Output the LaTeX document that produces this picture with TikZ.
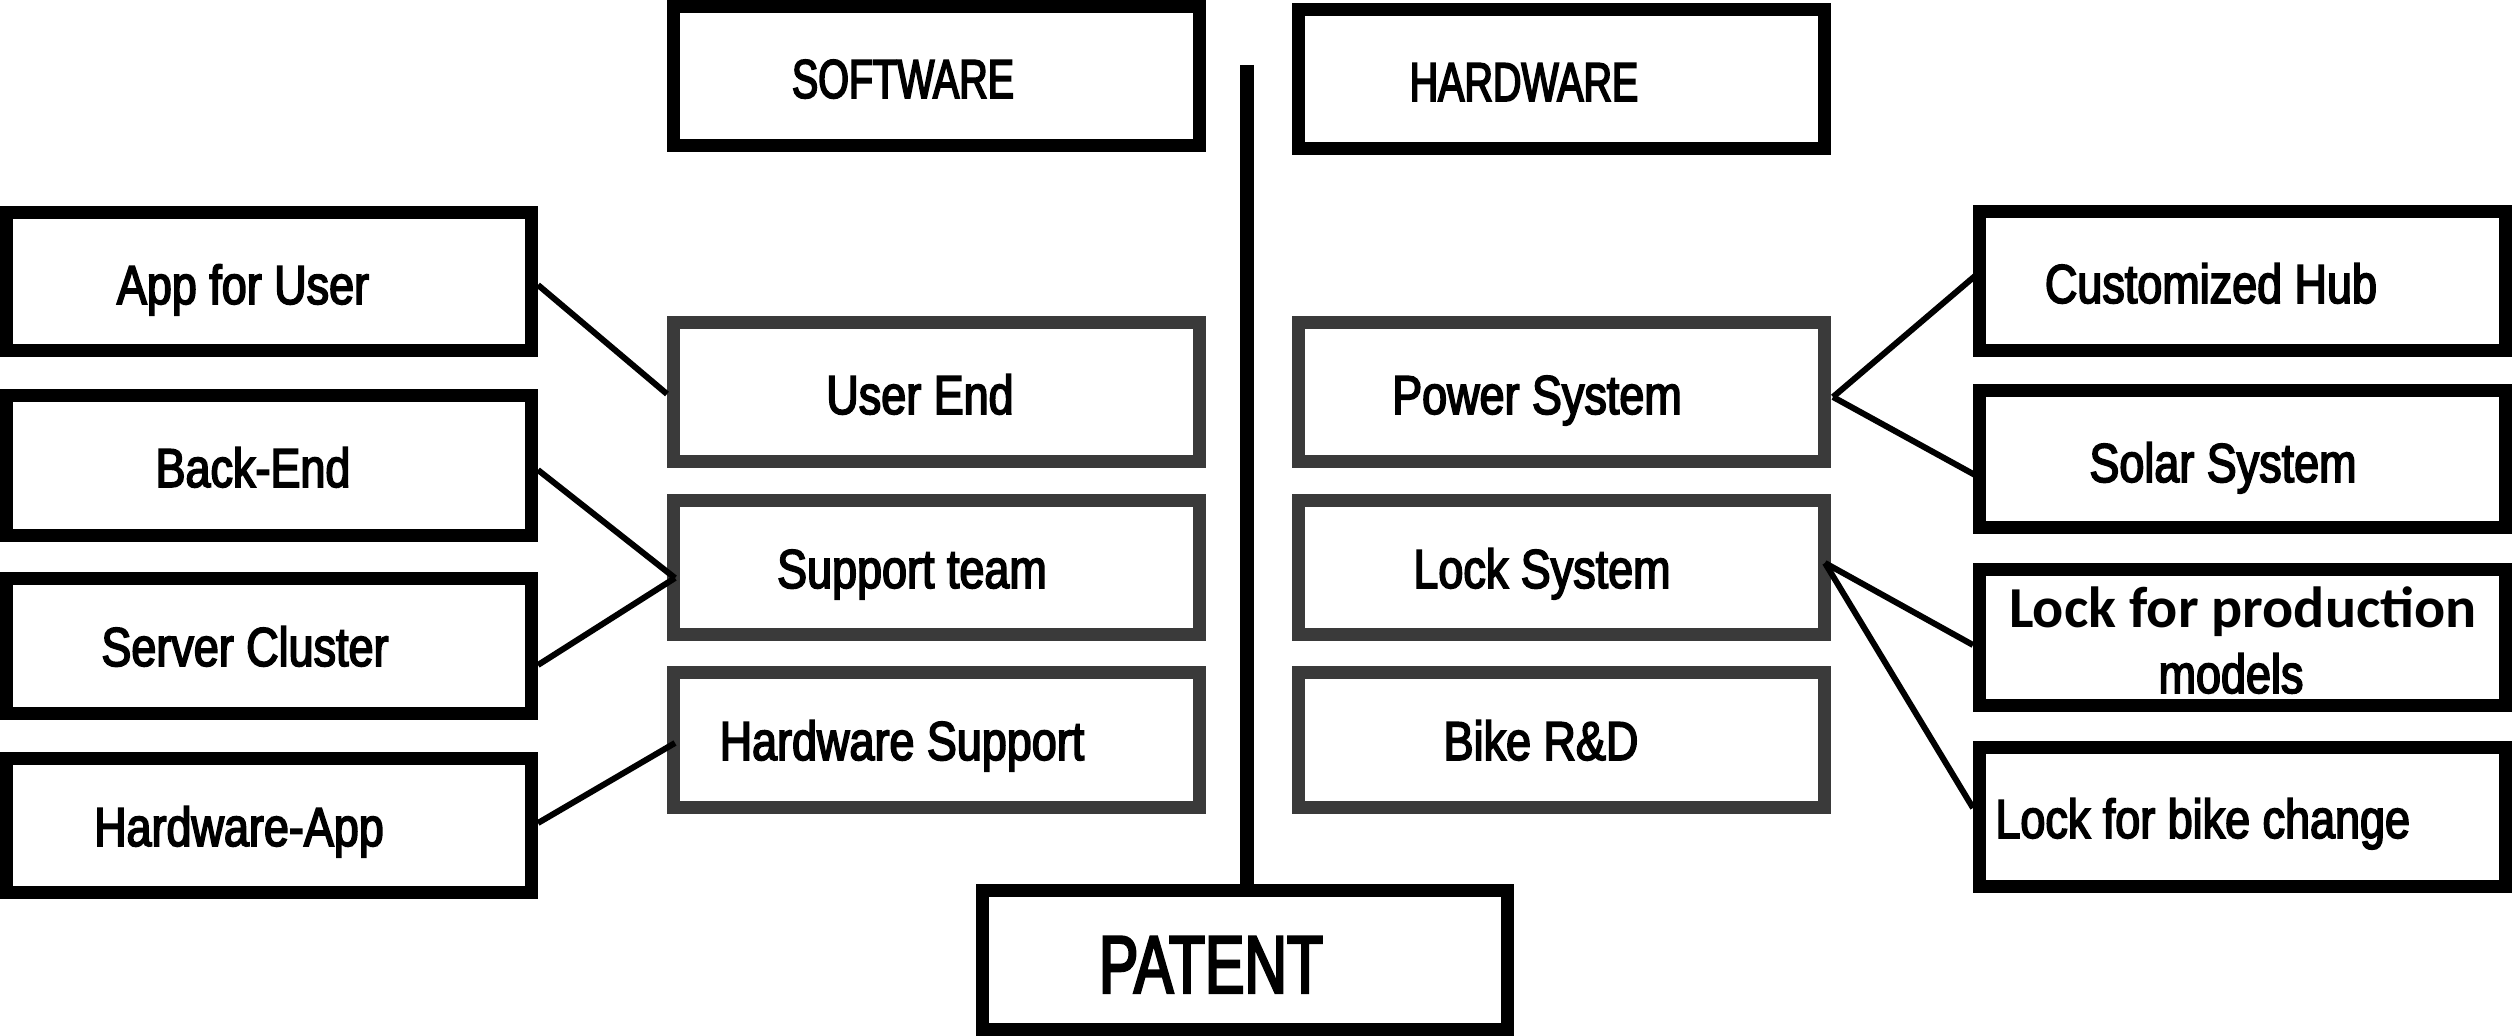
\documentclass[tikz,border=0pt]{standalone}
\usepackage{fontspec}
\usetikzlibrary{calc,fit}
\newfontfamily\condf[FakeStretch=0.82,FakeBold=3]{Liberation Sans}
\newfontfamily\capsf[FakeStretch=0.72,FakeBold=3]{Liberation Sans}
\newfontfamily\calib{Carlito}
\definecolor{gbox}{RGB}{58,58,58}
\tikzset{
  x=0.5pt, y=-0.5pt,
  box/.style={draw=black, rectangle, line width=6.5pt, inner sep=0pt, outer sep=0pt},
  gray box/.style={box, draw=gbox},
  lbl/.style={anchor=base, inner sep=0pt, font=\condf\fontsize{27.4}{30}\selectfont},
  clbl/.style={anchor=base, inner sep=0pt, font=\capsf\fontsize{27.4}{30}\selectfont},
  conn/.style={line width=3pt, black},
}
\newcommand{\mybox}[6]{\node[#6, fit={($(#2,#3)+(6.5,6.5)$) ($(#4,#5)-(6.5,6.5)$)}] (#1) {};}
\begin{document}
\begin{tikzpicture}
\fill[white] (0,0) rectangle (2512,1036);
\useasboundingbox (0,0) rectangle (2512,1036);
% left column
\mybox{app}{0}{206}{538}{357}{box}
\mybox{back}{0}{389}{538}{542}{box}
\mybox{server}{0}{572}{538}{720}{box}
\mybox{hwapp}{0}{752}{538}{899}{box}
% middle left
\mybox{software}{667}{0}{1206}{152}{box}
\mybox{userend}{667}{316}{1206}{468}{gray box}
\mybox{support}{667}{494}{1206}{641}{gray box}
\mybox{hwsup}{667}{666}{1206}{814}{gray box}
% middle right
\mybox{hardware}{1292}{3}{1831}{155}{box}
\mybox{power}{1292}{316}{1831}{468}{gray box}
\mybox{lock}{1292}{494}{1831}{641}{gray box}
\mybox{bike}{1292}{666}{1831}{814}{gray box}
% right column
\mybox{hub}{1973}{205}{2512}{357}{box}
\mybox{solar}{1973}{384}{2512}{534}{box}
\mybox{lprod}{1973}{563}{2512}{712}{box}
\mybox{lbike}{1973}{741}{2512}{893}{box}
% patent
\mybox{patent}{976}{884}{1514}{1036}{box}

% texts
\node[clbl] (tsoftware) at (903,98) {SOFTWARE};
\node[clbl] (thardware) at (1524,101) {HARDWARE};
\node[lbl] (tapp) at (243,304) {App for User};
\node[lbl] (tback) at (253,487) {Back-End};
\node[lbl] (tserver) at (245,666) {Server Cluster};
\node[lbl] (thwapp) at (239,846) {Hardware-App};
\node[lbl] (tuserend) at (920,414) {User End};
\node[lbl] (tsupport) at (912,588) {Support team};
\node[lbl] (thwsup) at (902,760) {Hardware Support};
\node[lbl] (tpower) at (1537,414) {Power System};
\node[lbl] (tlock) at (1542,588) {Lock System};
\node[lbl] (tbike) at (1541,760) {Bike R\&D};
\node[lbl] (thub) at (2211,303) {Customized Hub};
\node[lbl] (tsolar) at (2223,482) {Solar System};
\node[anchor=base, inner sep=0pt, font=\calib\bfseries\fontsize{29}{32}\selectfont] (tlprod) at (2243,628) {Lock for production};
\node[lbl] (tmodels) at (2231,693) {models};
\node[lbl, anchor=base west] (tlbike) at (1995,838) {Lock for bike change};
\node[anchor=base, inner sep=0pt, font=\capsf\fontsize{41}{44}\selectfont] (tpatent) at (1211,993) {PATENT};

% central spine
\coordinate (spinetop) at (1247,65);
\draw[line width=7pt] (spinetop) -- (spinetop |- patent.north);

% connectors
\draw[conn] ($(app.east)+(6.5,3.5)$) -- ($(userend.west)+(-6.5,2)$);
\draw[conn] ($(back.east)+(6.5,4.5)$) -- ($(support.west)+(1.5,10.5)$);
\draw[conn] ($(server.east)+(6.5,19)$) -- ($(support.west)+(1.5,10.5)$);
\draw[conn] ($(hwapp.east)+(6.5,-2.5)$) -- ($(hwsup.west)+(1.5,3)$);
\draw[conn] ($(power.east)+(8.5,5)$) -- ($(hub.west)+(-4.5,-5)$);
\draw[conn] ($(power.east)+(8.5,5)$) -- ($(solar.west)+(-4.5,16)$);
\draw[conn] ($(lock.east)+(0.5,-4.5)$) -- ($(lprod.west)+(-6.5,7.5)$);
\draw[conn] ($(lock.east)+(0.5,-4.5)$) -- ($(lbike.west)+(-6.5,-9)$);
\end{tikzpicture}
\end{document}
